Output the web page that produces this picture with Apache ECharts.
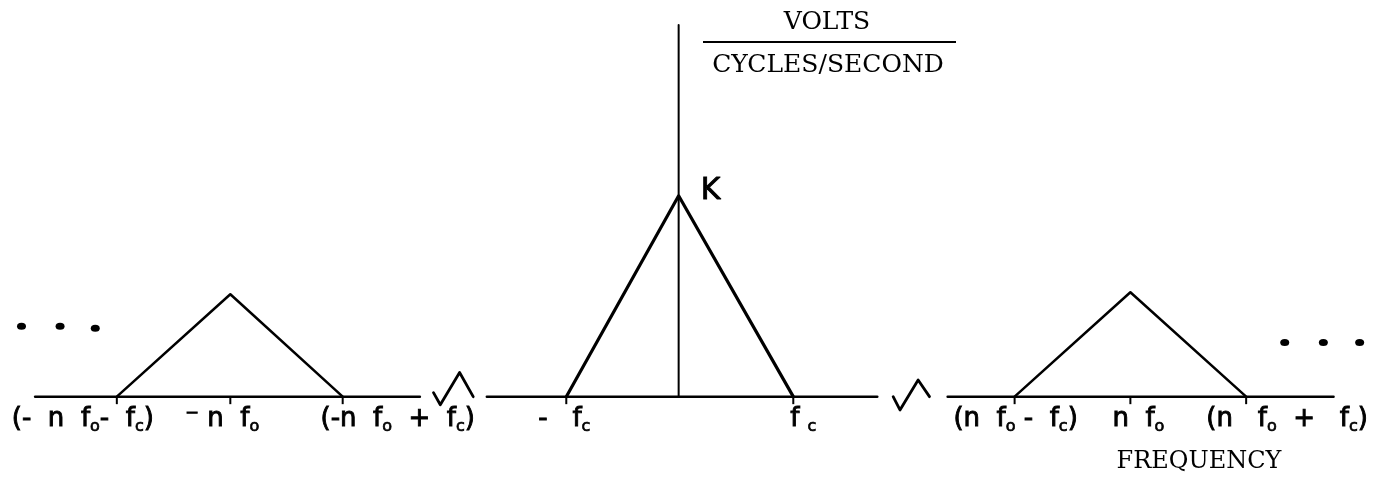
<!DOCTYPE html>
<html>
<head>
<meta charset="utf-8">
<title>Sampled spectrum</title>
<script src="https://cdn.jsdelivr.net/npm/echarts@6/dist/echarts.min.js"></script>
<style>
  html, body { margin: 0; padding: 0; background: #ffffff; }
  #chart { width: 1384px; height: 481px; }
</style>
</head>
<body>
<div id="chart"></div>
<script>
// Frequency runs in units of fc; the sidebands sit at ±n·f0 (drawn at about ±4 units).
// Amplitude is in units of the peak K.
const centreLobe     = [[-0.99, 0], [0, 1.0], [1.01, 0]];
const lowerSideband  = [[-4.95, 0], [-3.95, 0.51], [-2.96, 0]];
const upperSideband  = [[2.96, 0], [3.98, 0.52], [5.0, 0]];
const amplitudeAxis  = [[0, 0], [0, 1.85]];
const baselineLeft   = [[-5.67, 0], [-2.28, 0]];
const baselineMiddle = [[-1.69, 0], [1.75, 0]];
const baselineRight  = [[2.37, 0], [5.77, 0]];
const breakLeft      = [[-2.16, 0.02], [-2.10, -0.04], [-1.93, 0.12], [-1.81, 0]];
const breakRight     = [[1.89, 0], [1.95, -0.066], [2.11, 0.083], [2.21, 0]];
const ellipsisLeft   = [[-5.79, 0.35], [-5.45, 0.35], [-5.14, 0.34]];
const ellipsisRight  = [[5.34, 0.27], [5.68, 0.27], [6.0, 0.27]];
const tickValues     = [-4.95, -3.95, -2.96, -0.99, 1.01, 2.96, 3.98, 5.0];
const tickLabels     = [
  '(-  n  f{s|o}-  f{s|c})',
  '\u207B n  f{s|o}',
  '(-n  f{s|o}  +  f{s|c})',
  '-   f{s|c}',
  'f {s|c}',
  '(n  f{s|o} -  f{s|c})',
  'n  f{s|o}',
  '(n   f{s|o}  +   f{s|c})'
];
const peakValue = [0, 1.0];
const peakLabel = 'K';

// Hand-lettered labels drift a little from their ticks (horizontal shift, px).
const labelShift = [-34, -8, 55, -2, 10, 1, 8, 41];

const INK = '#000000';
const HAND = '"DejaVu Sans", sans-serif';
const TYPE = '"DejaVu Serif", serif';

function stroke(name, data, width) {
  return {
    name: name,
    type: 'line',
    data: data,
    symbol: 'none',
    clip: false,
    silent: true,
    lineStyle: { color: INK, width: width, cap: 'round', join: 'round', opacity: 1 },
    z: 3
  };
}

const series = [
  stroke('baseline-left', baselineLeft, 2.5),
  stroke('baseline-middle', baselineMiddle, 2.5),
  stroke('baseline-right', baselineRight, 2.5),
  stroke('break-left', breakLeft, 2.8),
  stroke('break-right', breakRight, 2.8),
  stroke('amplitude-axis', amplitudeAxis, 2),
  stroke('lower-sideband', lowerSideband, 2.5),
  stroke('centre-lobe', centreLobe, 3.2),
  stroke('upper-sideband', upperSideband, 2.5),
  {
    name: 'ellipsis',
    type: 'scatter',
    data: ellipsisLeft.concat(ellipsisRight),
    symbol: 'circle',
    symbolSize: [9, 7],
    itemStyle: { color: INK, opacity: 1 },
    silent: true,
    clip: false
  },
  {
    name: 'ticks',
    type: 'scatter',
    data: tickValues.map(function (v) { return [v, 0]; }),
    symbol: 'rect',
    symbolSize: [2, 7],
    symbolOffset: [0, 4],
    itemStyle: { color: INK, opacity: 1 },
    silent: true
  },
  {
    name: 'tick-labels',
    type: 'scatter',
    data: tickValues.map(function (v, i) {
      return {
        value: [v, 0],
        label: { formatter: tickLabels[i], offset: [labelShift[i], 0] }
      };
    }),
    symbolSize: 0,
    itemStyle: { opacity: 1 },
    silent: true,
    label: {
      show: true,
      position: 'bottom',
      distance: 8,
      color: INK,
      opacity: 1,
      fontFamily: HAND,
      fontSize: 26,
      lineHeight: 30,
      textBorderColor: INK,
      textBorderWidth: 0.9,
      rich: {
        s: { fontFamily: HAND, fontSize: 16, lineHeight: 16, verticalAlign: 'bottom', color: INK,
             textBorderColor: INK, textBorderWidth: 0.7 }
      }
    }
  },
  {
    name: 'peak',
    type: 'scatter',
    data: [peakValue],
    symbolSize: 0,
    itemStyle: { opacity: 1 },
    silent: true,
    label: {
      show: true,
      formatter: peakLabel,
      position: 'right',
      distance: 22,
      offset: [0, -5],
      color: INK,
      opacity: 1,
      fontFamily: HAND,
      fontSize: 30,
      textBorderColor: INK,
      textBorderWidth: 0.9
    }
  }
];

const chart = echarts.init(document.getElementById('chart'), null, { renderer: 'canvas' });
chart.setOption({
  animation: false,
  backgroundColor: '#ffffff',
  grid: { left: 9, right: 13, top: 5, bottom: 4 },
  xAxis: { type: 'value', min: -5.9, max: 6.1, show: false },
  yAxis: { type: 'value', min: -0.4, max: 1.95, show: false },
  series: series,
  graphic: [
    {
      type: 'text',
      style: { text: 'VOLTS', x: 827, y: 22, align: 'center', verticalAlign: 'middle',
               font: '25px ' + TYPE, fill: INK }
    },
    {
      type: 'line',
      shape: { x1: 703, y1: 42, x2: 956, y2: 42 },
      style: { stroke: INK, lineWidth: 2 }
    },
    {
      type: 'text',
      style: { text: 'CYCLES/SECOND', x: 828, y: 65, align: 'center', verticalAlign: 'middle',
               font: '25px ' + TYPE, fill: INK }
    },
    {
      type: 'text',
      style: { text: 'FREQUENCY', x: 1199, y: 462, align: 'center', verticalAlign: 'middle',
               font: '24px ' + TYPE, fill: INK }
    }
  ]
});
</script>
</body>
</html>
